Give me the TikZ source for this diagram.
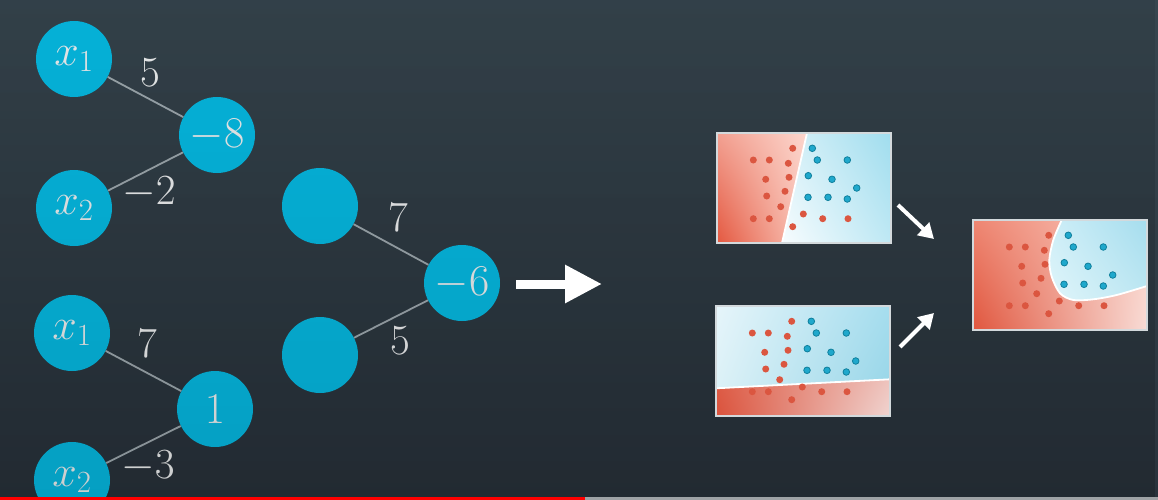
\RequirePackage{fix-cm}
\documentclass[tikz,border=0pt]{standalone}
\usetikzlibrary{arrows.meta,fadings,shadings}
\definecolor{bgtop}{HTML}{37464F}
\definecolor{bgbot}{HTML}{29333C}
\definecolor{nodecol}{HTML}{06C0EA}
\definecolor{conncol}{HTML}{A3AEB4}
\definecolor{txtcol}{HTML}{F6F8F9}
\definecolor{reddot}{HTML}{DB5640}
\definecolor{bluedot}{HTML}{1FA8CC}
\definecolor{bluedotline}{HTML}{0F7F9C}
\definecolor{framecol}{HTML}{D3D9DC}
\definecolor{barred}{HTML}{FF0000}
\definecolor{bargray}{HTML}{9EA2A5}
% panel colours
\definecolor{pAul}{RGB}{242,160,145}\definecolor{pAll}{RGB}{228,88,64}
\definecolor{pAur}{RGB}{252,214,205}\definecolor{pAlr}{RGB}{250,200,188}
\definecolor{pBul}{RGB}{216,241,248}\definecolor{pBll}{RGB}{247,252,254}
\definecolor{pBur}{RGB}{160,221,238}\definecolor{pBlr}{RGB}{190,232,244}
\definecolor{qAul}{RGB}{230,245,250}\definecolor{qAll}{RGB}{220,241,247}
\definecolor{qAur}{RGB}{165,221,238}\definecolor{qAlr}{RGB}{152,214,232}
\definecolor{qBul}{RGB}{222,92,70}\definecolor{qBll}{RGB}{218,82,60}
\definecolor{qBur}{RGB}{238,196,190}\definecolor{qBlr}{RGB}{240,212,208}
\definecolor{rAul}{RGB}{238,134,114}\definecolor{rAll}{RGB}{224,86,62}
\definecolor{rAur}{RGB}{250,208,198}\definecolor{rAlr}{RGB}{248,220,214}
\definecolor{rBul}{RGB}{206,238,247}\definecolor{rBll}{RGB}{224,245,250}
\definecolor{rBur}{RGB}{165,221,238}\definecolor{rBlr}{RGB}{190,231,242}
\tikzset{
 neuron/.style={circle, fill=nodecol, minimum size=76pt, inner sep=0pt, text=txtcol, font=\fontsize{44}{48}\selectfont},
 wlabel/.style={text=txtcol, font=\fontsize{43}{48}\selectfont, inner sep=0pt},
 conn/.style={draw=conncol, line width=1.8pt},
 rdot/.style={fill=reddot},
 bdot/.style={fill=bluedot, draw=bluedotline, line width=0.8pt},
 frame/.style={draw=framecol, line width=1.5pt},
 bound/.style={draw=white, line width=1.8pt},
 bigarrow/.style={draw=white, line width=9pt, -{Triangle[length=37pt,width=36pt]}},
 smallarrow/.style={draw=white, line width=4pt, -{Triangle[length=15pt,width=17pt]}},
}
\newcommand\mydots{%
 \foreach \a/\b in {75.7/15.3,36.3/27,52.3/27,71.3/30.3,48.7/46.3,72/44.3,49.7/63,68/58.3,63.7/73.7,36.3/85.7,52.3/85.7,86.3/81,105.7/85.7,131/85.7,75.7/93.7}
   \fill[rdot] (\a,\b) circle (3.5pt);
 \foreach \a/\b in {95.3/15.3,100.3/27,130.3/27,91.3/42.7,115/46.3,139.7/55,91/64.3,111/64.3,130.3/66}
   \filldraw[bdot] (\a,\b) circle (3.3pt);
}
\begin{document}
\begin{tikzpicture}[x=1pt,y=-1pt]
\useasboundingbox (0,0) rectangle (1158,500);
\shade[top color=bgtop, bottom color=bgbot] (0,0) rectangle (1158,500);

% neurons
\node[neuron] (x1a) at (74,59) {$x_1$};
\node[neuron] (h1) at (217,135) {$-8$};
\node[neuron] (x2a) at (74,208) {$x_2$};
\node[neuron] (x1b) at (72,333) {$x_1$};
\node[neuron] (h2) at (215,409) {$1$};
\node[neuron] (x2b) at (72,480) {$x_2$};
\node[neuron] (ea) at (320,206) {};
\node[neuron] (eb) at (320,355) {};
\node[neuron] (out) at (462,283) {$-6$};

\draw[conn] (x1a) -- (h1);
\draw[conn] (x2a) -- (h1);
\draw[conn] (x1b) -- (h2);
\draw[conn] (x2b) -- (h2);
\draw[conn] (ea) -- (out);
\draw[conn] (eb) -- (out);

\node[wlabel] (w1) at (150,73) {$5$};
\node[wlabel] (w2) at (149,192) {$-2$};
\node[wlabel] (w3) at (147,344) {$7$};
\node[wlabel] (w4) at (148,466) {$-3$};
\node[wlabel] (w5) at (398,218) {$7$};
\node[wlabel] (w6) at (400,341) {$5$};

% darkening toward the bottom
\begin{scope}
 \clip (0,0) rectangle (1158,500);
 \fill[black, fill opacity=0.18, path fading=north] (0,-400) rectangle (1158,560);
\end{scope}

% big arrow
\coordinate (bigA) at (516,284);
\coordinate (bigB) at (602,284);
\draw[bigarrow] (bigA) -- (bigB);

% panel 1
\begin{scope}[shift={(717,133)}]
 \shade[upper left=pAul, lower left=pAll, upper right=pAur, lower right=pAlr]
   (0,0) -- (90,0) -- (65,110) -- (0,110) -- cycle;
 \shade[upper left=pBul, lower left=pBll, upper right=pBur, lower right=pBlr]
   (90,0) -- (174,0) -- (174,110) -- (65,110) -- cycle;
 \draw[bound] (90,0) -- (65,110);
 \mydots
 \draw[frame] (0,0) rectangle (174,110);
\end{scope}

% panel 2
\begin{scope}[shift={(716,306)}]
 \shade[upper left=qAul, lower left=qAll, upper right=qAur, lower right=qAlr]
   (0,0) -- (174,0) -- (174,73.3) -- (0,82.3) -- cycle;
 \shade[upper left=qBul, lower left=qBll, upper right=qBur, lower right=qBlr]
   (0,82.3) -- (174,73.3) -- (174,110) -- (0,110) -- cycle;
 \draw[bound] (0,82.3) -- (174,73.3);
 \mydots
 \draw[frame] (0,0) rectangle (174,110);
\end{scope}

% panel 3
\begin{scope}[shift={(973,220)}]
 \shade[upper left=rAul, lower left=rAll, upper right=rAur, lower right=rAlr]
   (0,0) rectangle (174,110);
 \shade[upper left=rBul, lower left=rBll, upper right=rBur, lower right=rBlr]
   plot[smooth] coordinates {(88.7,0) (80.3,20) (76.3,40) (78.7,56.7) (87,73.3) (100.3,80) (120.3,79.3) (143.7,75) (174,66)} -- (174,0) -- cycle;
 \draw[bound] plot[smooth] coordinates {(88.7,0) (80.3,20) (76.3,40) (78.7,56.7) (87,73.3) (100.3,80) (120.3,79.3) (143.7,75) (174,66)};
 \mydots
 \draw[frame] (0,0) rectangle (174,110);
\end{scope}

% small arrows
\coordinate (saA) at (898,205);
\coordinate (saB) at (934,239);
\coordinate (sbA) at (900,347);
\coordinate (sbB) at (934,313);
\draw[smallarrow] (saA) -- (saB);
\draw[smallarrow] (sbA) -- (sbB);

% progress bar
\fill[barred] (0,497) rectangle (585,500);
\fill[bargray] (585,497) rectangle (1158,500);
\end{tikzpicture}
\end{document}
